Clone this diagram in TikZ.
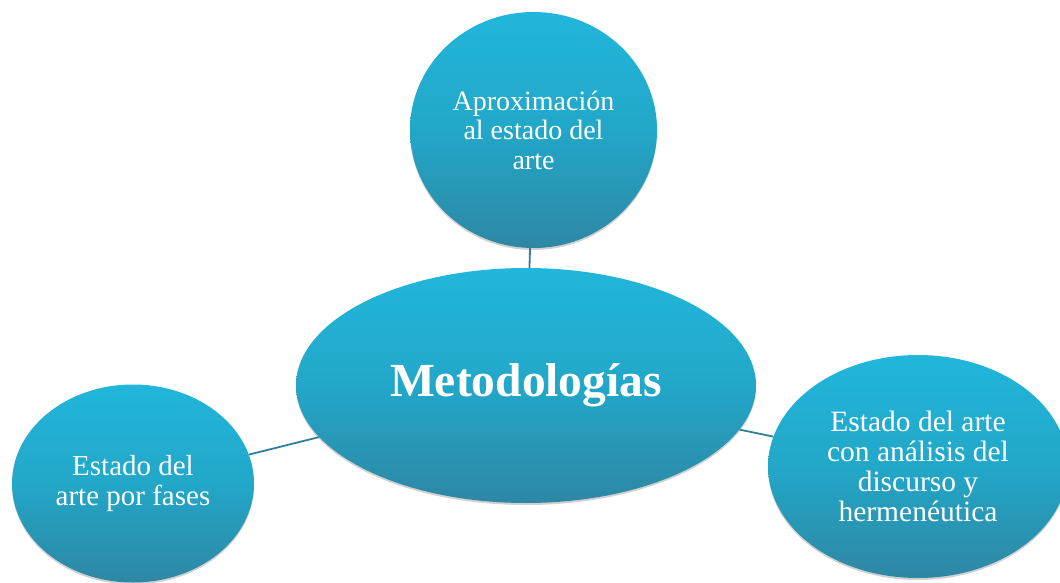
\documentclass[tikz,border=0pt]{standalone}
\usepackage{fontspec}
\setmainfont{Liberation Serif}
\usetikzlibrary{shapes.geometric,shadows}
\definecolor{bubtop}{HTML}{21B6DB}
\definecolor{bubmid}{HTML}{22A7C8}
\definecolor{bubbot}{HTML}{2E87A4}
\definecolor{linkcol}{HTML}{2F809C}
\tikzset{
  bubble/.style={ellipse, inner sep=0pt, draw=none, text=white, align=center,
    top color=bubtop, bottom color=bubbot, middle color=bubmid,
    drop shadow={shadow xshift=0pt, shadow yshift=-2pt, opacity=0.18, fill=black},
    font=\fontsize{28}{29.5}\selectfont},
  link/.style={draw=linkcol, line width=1.8pt}
}
\begin{document}
\begin{tikzpicture}[x=1pt,y=-1pt]
\useasboundingbox (0,0) rectangle (1060,583);
\clip (0,0) rectangle (1060,583);
\fill[white] (0,0) rectangle (1060,583);
\node[bubble, minimum width=247pt, minimum height=236pt] (top) at (533.5,130) {Aproximación\\al estado del\\arte};
\node[bubble, minimum width=460pt, minimum height=235pt, font=\fontsize{47.5}{52}\selectfont\bfseries] (center) at (526,385.5) {Metodologías};
\node[bubble, minimum width=242pt, minimum height=198pt, font=\fontsize{29}{29.5}\selectfont] (left) at (133,483.5) {Estado del\\arte por fases};
\node[bubble, minimum width=300pt, minimum height=223pt, font=\fontsize{29.5}{30}\selectfont] (right) at (918,466.5) {Estado del arte\\con análisis del\\discurso y\\hermenéutica};
\draw[link] (top) -- (center);
\draw[link] (left) -- (center);
\draw[link] (right) -- (center);
\end{tikzpicture}
\end{document}
